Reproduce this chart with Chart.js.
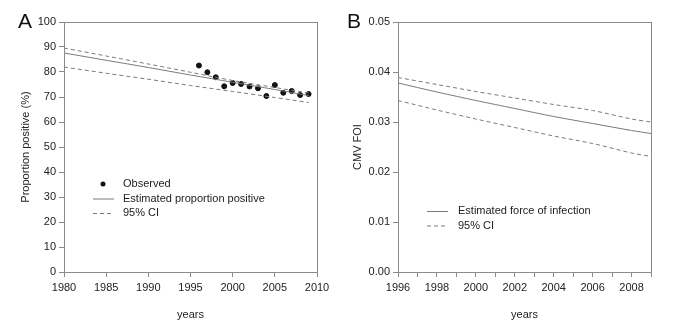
<!DOCTYPE html>
<html>
<head>
<meta charset="utf-8">
<script src="https://cdn.jsdelivr.net/npm/chart.js@4"></script>
<style>
  html, body { margin: 0; padding: 0; background: #fff; }
  .wrap { position: relative; width: 673px; height: 329px; }
  .panel { position: absolute; top: 0; height: 329px; }
  #pa { left: 0; width: 336px; }
  #pb { left: 336px; width: 337px; }
  .tag { position: absolute; font: 21px "Liberation Sans", Arial, sans-serif; color: #111; }
</style>
</head>
<body>
<div class="wrap">
  <div class="panel" id="pa"><canvas id="chartA" width="336" height="329"></canvas></div>
  <div class="panel" id="pb"><canvas id="chartB" width="337" height="329"></canvas></div>
  <div class="tag" style="left:18px;top:9px">A</div>
  <div class="tag" style="left:347px;top:9px">B</div>
</div>
<script>
// panel A: observed proportion positive (%)
const obsYears = [1996, 1997, 1998, 1999, 2000, 2001, 2002, 2003, 2004, 2005, 2006, 2007, 2008, 2009];
const obsValues = [82.6, 79.9, 77.9, 74.3, 75.6, 75.2, 74.2, 73.5, 70.4, 74.8, 71.7, 72.4, 70.8, 71.2];
const fitYearsA = [1980, 1985, 1990, 1995, 2000, 2005, 2009];
const fitA = [87.6, 84.7, 81.8, 78.8, 75.9, 73.0, 70.6];
const upperA = [89.6, 86.4, 83.2, 79.9, 76.6, 73.8, 71.6];
const lowerA = [82.0, 79.5, 77.1, 74.6, 72.2, 69.8, 67.8];

// panel B: force of infection
const fitYearsB = [1996, 1998, 2000, 2002, 2004, 2006, 2008, 2009];
const fitB = [0.0378, 0.0360, 0.0343, 0.0327, 0.0311, 0.0297, 0.0283, 0.0277];
const upperB = [0.0389, 0.0375, 0.0361, 0.0348, 0.0335, 0.0323, 0.0306, 0.0300];
const lowerB = [0.0343, 0.0324, 0.0306, 0.0289, 0.0272, 0.0257, 0.0238, 0.0231];

const FONT = "'Liberation Sans', Arial, sans-serif";
const AXIS = "#8a8a8a";
const LINE = "#7a7a7a";

const pts = (xs, ys) => xs.map((x, i) => ({ x: x, y: ys[i] }));

// box around the plot area
const boxPlugin = {
  id: "box",
  afterDraw(chart) {
    const a = chart.chartArea, ctx = chart.ctx;
    ctx.save();
    ctx.strokeStyle = AXIS;
    ctx.lineWidth = 1;
    ctx.strokeRect(a.left + 0.5, a.top + 0.5, a.right - a.left, a.bottom - a.top);
    ctx.restore();
  },
};

// legend drawn inside the plot
const insideLegend = {
  id: "insideLegend",
  afterDraw(chart, args, opts) {
    const ctx = chart.ctx;
    ctx.save();
    ctx.font = "11px " + FONT;
    ctx.textBaseline = "middle";
    opts.items.forEach((it, i) => {
      const y = opts.y + i * opts.gap;
      if (it.kind === "dot") {
        ctx.beginPath();
        ctx.arc(opts.x + 10, y, 2.5, 0, Math.PI * 2);
        ctx.fillStyle = "#111";
        ctx.fill();
      } else {
        ctx.beginPath();
        ctx.strokeStyle = LINE;
        ctx.lineWidth = 1;
        ctx.setLineDash(it.kind === "dash" ? [4, 3] : []);
        ctx.moveTo(opts.x, y + 0.5);
        ctx.lineTo(opts.x + 21, y + 0.5);
        ctx.stroke();
        ctx.setLineDash([]);
      }
      ctx.fillStyle = "#222";
      ctx.fillText(it.text, opts.x + opts.textOff, y);
    });
    ctx.restore();
  },
};

function scaleX(min, max, step, cb) {
  return {
    type: "linear",
    min: min,
    max: max,
    grid: { drawOnChartArea: false, tickLength: 5, color: AXIS },
    border: { color: AXIS },
    ticks: { stepSize: step, color: "#222", font: { family: FONT, size: 11 }, padding: 4, maxRotation: 0, autoSkip: false, callback: cb },
    title: { display: true, text: "years", color: "#222", font: { family: FONT, size: 11 }, padding: { top: 0, bottom: 7 } },
    afterFit(s) { s.height = 57; },
  };
}

function scaleY(min, max, step, title, width, cb) {
  return {
    type: "linear",
    min: min,
    max: max,
    grid: { drawOnChartArea: false, tickLength: 5, color: AXIS },
    border: { color: AXIS },
    ticks: { stepSize: step, color: "#222", font: { family: FONT, size: 11 }, padding: 3, callback: cb },
    title: { display: true, text: title, color: "#222", font: { family: FONT, size: 11 }, padding: { top: 0, bottom: 0 } },
    afterFit(s) { s.width = width; },
  };
}

const lineDs = (data, dashed) => ({
  type: "line",
  data: data,
  borderColor: LINE,
  borderWidth: 1,
  borderDash: dashed ? [4, 3] : [],
  pointRadius: 0,
  fill: false,
  tension: 0.3,
});

new Chart(document.getElementById("chartA"), {
  type: "scatter",
  data: {
    datasets: [
      lineDs(pts(fitYearsA, fitA), false),
      lineDs(pts(fitYearsA, upperA), true),
      lineDs(pts(fitYearsA, lowerA), true),
      {
        type: "scatter",
        data: pts(obsYears, obsValues),
        backgroundColor: "#111",
        borderColor: "#111",
        pointRadius: 2.5,
      },
    ],
  },
  options: {
    responsive: false,
    animation: false,
    layout: { padding: { left: 19, right: 19, top: 22, bottom: 0 } },
    plugins: {
      legend: { display: false },
      tooltip: { enabled: false },
      insideLegend: {
        x: 93, y: 184, gap: 14.5, textOff: 30,
        items: [
          { kind: "dot", text: "Observed" },
          { kind: "line", text: "Estimated proportion positive" },
          { kind: "dash", text: "95% CI" },
        ],
      },
    },
    scales: {
      x: scaleX(1980, 2010, 5),
      y: scaleY(0, 100, 10, "Proportion positive (%)", 45),
    },
  },
  plugins: [boxPlugin, insideLegend],
});

new Chart(document.getElementById("chartB"), {
  type: "line",
  data: {
    datasets: [
      lineDs(pts(fitYearsB, fitB), false),
      lineDs(pts(fitYearsB, upperB), true),
      lineDs(pts(fitYearsB, lowerB), true),
    ],
  },
  options: {
    responsive: false,
    animation: false,
    layout: { padding: { left: 15, right: 22, top: 22, bottom: 0 } },
    plugins: {
      legend: { display: false },
      tooltip: { enabled: false },
      insideLegend: {
        x: 91, y: 211, gap: 14.5, textOff: 31,
        items: [
          { kind: "line", text: "Estimated force of infection" },
          { kind: "dash", text: "95% CI" },
        ],
      },
    },
    scales: {
      x: scaleX(1996, 2009, 1, (v) => (v % 2 === 0 ? String(v) : "")),
      y: scaleY(0, 0.05, 0.01, "CMV FOI", 47, (v) => v.toFixed(2)),
    },
  },
  plugins: [boxPlugin, insideLegend],
});
</script>
</body>
</html>
